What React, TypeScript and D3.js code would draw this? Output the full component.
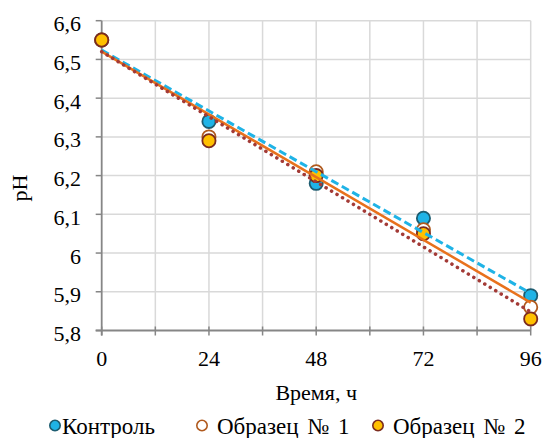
import React from "react";
import * as d3 from "d3";

const hours = [0, 24, 48, 72, 96];
const controlPH = [6.55, 6.34, 6.18, 6.09, 5.89];
const sample1PH = [6.55, 6.3, 6.21, 6.06, 5.86];
const sample2PH = [6.55, 6.29, 6.2, 6.05, 5.83];
const seriesNames = ["Контроль", "Образец № 1", "Образец № 2"];
const xTickLabels = [0, 24, 48, 72, 96];
const yTickValues = [5.8, 5.9, 6.0, 6.1, 6.2, 6.3, 6.4, 6.5, 6.6];

const W = 546;
const H = 438;

function linearFit(xs: number[], ys: number[]) {
  const mx = d3.mean(xs)!;
  const my = d3.mean(ys)!;
  let num = 0;
  let den = 0;
  xs.forEach((x, i) => {
    num += (x - mx) * (ys[i] - my);
    den += (x - mx) * (x - mx);
  });
  const slope = num / den;
  const intercept = my - slope * mx;
  return (x: number) => intercept + slope * x;
}

const styles = [
  { fill: "#1fb3e6", stroke: "#1d5c70", trend: "#1fb3e6", dash: "8,4", width: 3, cap: "butt" },
  { fill: "#ffffff", stroke: "#b05a1e", trend: "#e8711c", dash: "", width: 2.5, cap: "butt" },
  { fill: "#ffc000", stroke: "#7b2b1f", trend: "#a33a36", dash: "0.1,6.3", width: 3.5, cap: "round" },
];

function Label(props: {
  x: number;
  y: number;
  anchor?: string;
  size?: number;
  transform?: string;
  wordSpacing?: number;
  children: React.ReactNode;
}) {
  return (
    <text
      x={props.x}
      y={props.y}
      transform={props.transform}
      textAnchor={props.anchor || "start"}
      style={{
        fontFamily: "Liberation Serif",
        fontSize: `${props.size || 22}px`,
        wordSpacing: props.wordSpacing ? `${props.wordSpacing}px` : undefined,
      }}
      fill="#000"
    >
      {props.children}
    </text>
  );
}

export default function App() {
  const x = d3.scaleLinear().domain([0, 96]).range([101.7, 530.7]);
  const y = d3.scaleLinear().domain([5.8, 6.6]).range([330.5, 20.7]);
  const series = [controlPH, sample1PH, sample2PH];
  const fmt = (v: number) => (Math.round(v * 10) / 10 === 6 ? "6" : v.toFixed(1).replace(".", ","));
  const xGrid = d3.range(0, 97, 12);
  const legendPos = [
    { cx: 55, tx: 62, ws: 0 },
    { cx: 202, tx: 217, ws: 3 },
    { cx: 378, tx: 393, ws: 3 },
  ];

  return (
    <svg width={W} height={H} style={{ display: "block", position: "absolute", left: 0, top: 0, fontFamily: "Liberation Serif" }}>
      <rect width={W} height={H} fill="#ffffff" />
      {/* grid */}
      {xGrid.filter((v) => v > 0).map((v) => (
        <line key={"gx" + v} x1={x(v)} x2={x(v)} y1={y(6.6)} y2={y(5.8)} stroke="#d9d9d9" strokeWidth={1.5} />
      ))}
      {yTickValues.filter((v) => v > 5.85).map((v) => (
        <line key={"gy" + v} x1={x(0)} x2={x(96)} y1={y(v)} y2={y(v)} stroke="#d9d9d9" strokeWidth={1.5} />
      ))}
      {/* axes */}
      <line x1={x(0)} x2={x(0)} y1={y(6.6)} y2={y(5.8) + 5} stroke="#868686" strokeWidth={1.8} />
      <line x1={x(0) - 6} x2={x(96)} y1={y(5.8)} y2={y(5.8)} stroke="#868686" strokeWidth={1.8} />
      {yTickValues.map((v) => (
        <line key={"ty" + v} x1={x(0) - 6} x2={x(0)} y1={y(v)} y2={y(v)} stroke="#868686" strokeWidth={1.5} />
      ))}
      {xGrid.map((v) => (
        <line key={"tx" + v} x1={x(v)} x2={x(v)} y1={y(5.8) - 4} y2={y(5.8) + 5} stroke="#868686" strokeWidth={1.5} />
      ))}
      {yTickValues.map((v) => (
        <Label key={"ly" + v} x={81} y={y(v) + 10.5} anchor="end">{fmt(v)}</Label>
      ))}
      {xTickLabels.map((v) => (
        <Label key={"lx" + v} x={x(v)} y={366} anchor="middle">{String(v)}</Label>
      ))}
      <Label x={x(48)} y={400} anchor="middle">Время, ч</Label>
      <Label x={0} y={0} transform="translate(27,188) rotate(-90)" anchor="middle">pH</Label>

      {/* data points */}
      {series.map((vals, si) =>
        vals.map((v, i) => (
          <circle key={`p${si}-${i}`} cx={x(hours[i])} cy={y(v)} r={6.6} fill={styles[si].fill} stroke={styles[si].stroke} strokeWidth={1.8} />
        ))
      )}
      {/* linear trend lines */}
      {series.map((vals, si) => {
        const f = linearFit(hours, vals);
        return (
          <line
            key={"tr" + si}
            x1={x(0)}
            y1={y(f(0))}
            x2={x(96)}
            y2={y(f(96))}
            stroke={styles[si].trend}
            strokeWidth={styles[si].width}
            strokeDasharray={styles[si].dash || undefined}
            strokeLinecap={styles[si].cap as any}
          />
        );
      })}

      {/* legend */}
      {legendPos.map((p, si) => (
        <g key={"lg" + si}>
          <circle cx={p.cx} cy={425.5} r={5.2} fill={styles[si].fill} stroke={styles[si].stroke} strokeWidth={1.6} />
          <Label x={p.tx} y={434} size={23} wordSpacing={p.ws}>{seriesNames[si]}</Label>
        </g>
      ))}
    </svg>
  );
}
